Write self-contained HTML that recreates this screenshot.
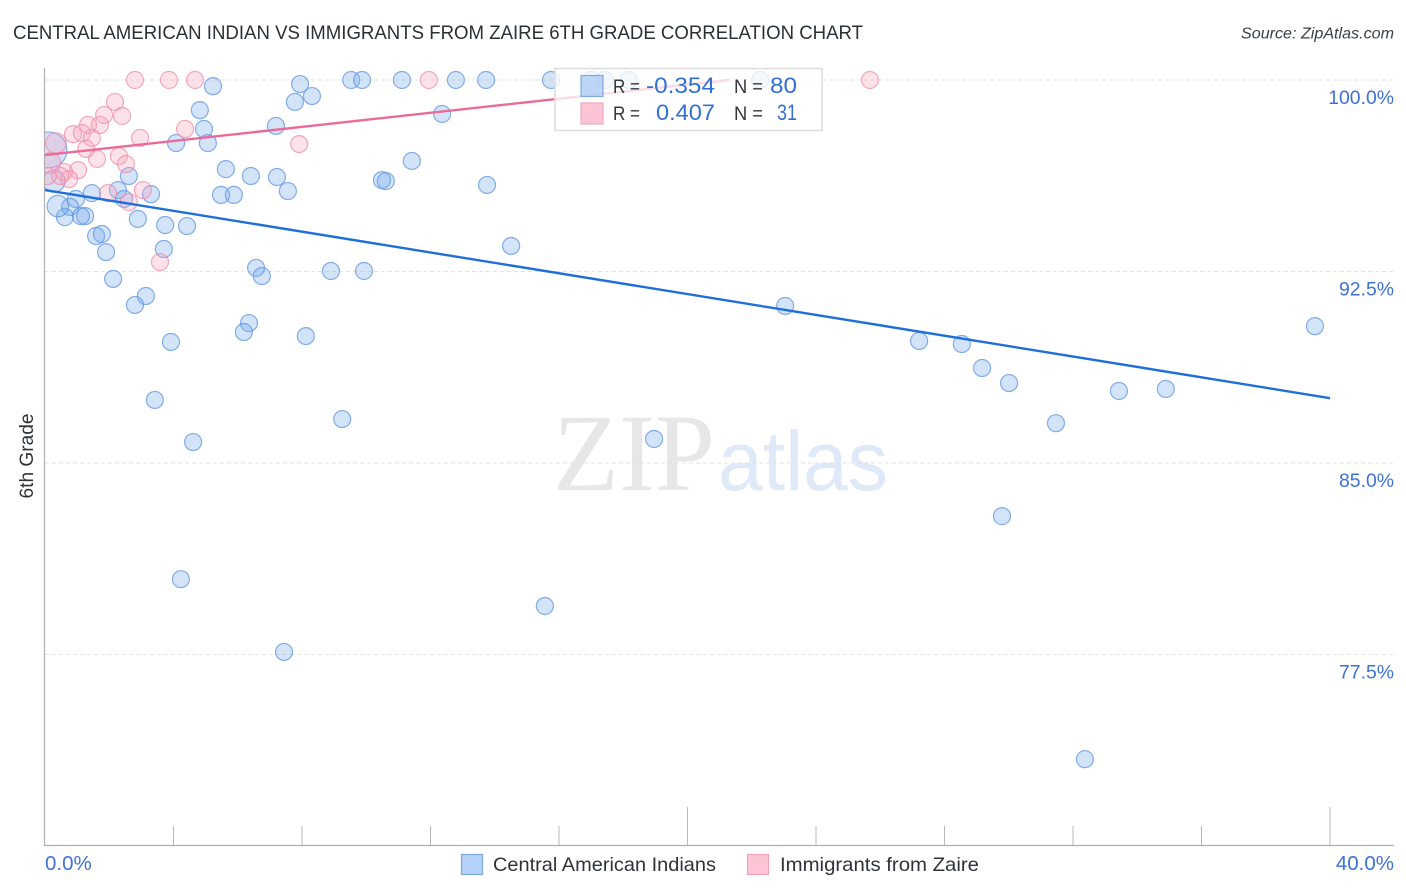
<!DOCTYPE html>
<html>
<head>
<meta charset="utf-8">
<title>Central American Indian vs Immigrants from Zaire 6th Grade Correlation Chart</title>
<style>
html,body{margin:0;padding:0;background:#fff;width:1406px;height:892px;overflow:hidden}
svg{display:block}
text{font-family:"Liberation Sans",sans-serif}
</style>
</head>
<body>
<svg id="chart" width="1406" height="892" viewBox="0 0 1406 892" xmlns="http://www.w3.org/2000/svg">
  <defs><clipPath id="plot-clip"><rect x="45" y="60" width="1349" height="785"/></clipPath></defs>
  <rect width="1406" height="892" fill="#fff"/>
  <text x="13" y="39" font-size="19" fill="#2b2f36" textLength="850" lengthAdjust="spacingAndGlyphs">CENTRAL AMERICAN INDIAN VS IMMIGRANTS FROM ZAIRE 6TH GRADE CORRELATION CHART</text>
  <text x="1241" y="38.500" font-size="15.500" font-style="italic" fill="#3a3f47" textLength="153" lengthAdjust="spacingAndGlyphs">Source: ZipAtlas.com</text>
  <text x="553" y="490" font-size="110" fill="#e7e7e7" textLength="162" lengthAdjust="spacingAndGlyphs" style="font-family:'Liberation Serif',serif">ZIP</text>
  <text x="718" y="490" font-size="84" fill="#dfe9f8" textLength="170" lengthAdjust="spacingAndGlyphs">atlas</text>
  <g id="grid"></g>
  <g id="blue-points" clip-path="url(#plot-clip)"></g>
  <g id="pink-points" clip-path="url(#plot-clip)"></g>
  <g id="trends"></g>
  <g id="axes"></g>
  <text transform="translate(33,456) rotate(-90)" font-size="19" fill="#2f3339" text-anchor="middle" textLength="85" lengthAdjust="spacingAndGlyphs">6th Grade</text>

  <g>
    <rect x="555" y="68.500" width="267" height="62" fill="#fff" fill-opacity="0.76" stroke="#dcdcdc" stroke-width="1.500"/>
    <rect x="581" y="75.500" width="22" height="21" fill="#a9c9f3" fill-opacity="0.75" stroke="#7fa8de" stroke-width="1.200"/>
    <rect x="581" y="103" width="22" height="21" fill="#fcc5d6" stroke="#f3a9c0" stroke-width="1.200"/>
    <text x="613" y="93" font-size="19.500" fill="#33363b" textLength="27" lengthAdjust="spacingAndGlyphs">R =</text>
    <text x="646" y="93" font-size="22" fill="#3170d2" textLength="69" lengthAdjust="spacingAndGlyphs">-0.354</text>
    <text x="734" y="93" font-size="19.500" fill="#33363b" textLength="29" lengthAdjust="spacingAndGlyphs">N =</text>
    <text x="770" y="93" font-size="22" fill="#3170d2" textLength="27" lengthAdjust="spacingAndGlyphs">80</text>
    <text x="613" y="120" font-size="19.500" fill="#33363b" textLength="27" lengthAdjust="spacingAndGlyphs">R =</text>
    <text x="656" y="120" font-size="22" fill="#3170d2" textLength="59" lengthAdjust="spacingAndGlyphs">0.407</text>
    <text x="734" y="120" font-size="19.500" fill="#33363b" textLength="29" lengthAdjust="spacingAndGlyphs">N =</text>
    <text x="777" y="120" font-size="22" fill="#3170d2" textLength="20" lengthAdjust="spacingAndGlyphs">31</text>
  </g>

  <g>
    <rect x="461.500" y="854.500" width="21" height="20" fill="#b5d3f8" stroke="#7ea9dd" stroke-width="1.200"/>
    <text x="493" y="871" font-size="19.500" fill="#2f3339" textLength="223" lengthAdjust="spacingAndGlyphs">Central American Indians</text>
    <rect x="747.500" y="854.500" width="21" height="20" fill="#fcc5d6" stroke="#f0a5bd" stroke-width="1.200"/>
    <text x="780" y="871" font-size="19.500" fill="#2f3339" textLength="199" lengthAdjust="spacingAndGlyphs">Immigrants from Zaire</text>
  </g>
</svg>
<script>
const yTicks = [100, 92.5, 85, 77.5];
const yTickLabels = ["100.0%", "92.5%", "85.0%", "77.5%"];
const xTicks = [0, 4, 8, 12, 16, 20, 24, 28, 32, 36, 40];
const xMajorTicks = [20, 40];
const xTickLabels = ["0.0%", "40.0%"];

const blueX = [5.23,7.94,8.31,7.78,4.82,4.95,4.08,5.07,7.19,12.36,9.53,9.87,11.11,12.79,13.73,15.75,17.00,17.43,18.18,22.26,11.42,5.63,6.41,7.22,7.56,5.48,5.88,10.49,10.61,13.76,2.61,2.27,1.46,0.96,2.46,3.30,0.78,1.25,1.12,0.62,2.89,3.74,4.42,1.59,1.77,1.90,3.70,14.51,6.57,6.75,8.90,9.93,2.12,3.14,2.80,23.04,6.35,6.19,8.12,3.92,27.21,28.54,39.53,29.17,30.01,33.43,34.89,3.42,9.25,31.47,4.61,18.96,29.79,4.23,15.56,7.44,32.37];
const blueY = [99.76,99.84,99.37,99.14,98.82,98.08,97.53,97.53,98.20,98.67,100,100,100,100,100,100,100,100,100,100,96.83,96.51,96.24,96.20,95.65,95.50,95.50,96.08,96.04,95.89,96.24,95.69,95.57,95.34,95.34,95.53,95.03,94.67,94.67,94.63,94.56,94.32,94.28,93.89,93.97,93.26,93.38,93.50,92.64,92.32,92.52,92.52,92.21,91.54,91.19,91.15,90.48,90.13,89.97,89.74,89.78,89.66,90.36,88.72,88.13,87.82,87.90,87.47,86.72,86.56,85.82,85.94,82.92,80.45,79.40,77.60,73.40];
const blueLargeX = [0.12, 0.28, 0.40];
const blueLargeY = [97.26, 96.04, 95.06];
const blueLargeWeight = [4.5, 1.7, 1.6];

const pinkX = [2.80,3.86,4.67,11.95,25.68,2.18,1.84,2.40,1.34,1.71,4.36,2.96,0.87,1.15,1.46,7.91,1.28,2.30,1.62,2.52,1.03,0.59,0.75,0.47,0.09,1.96,3.05,2.61,3.58];
const pinkY = [100,100,100,100,100,99.14,98.63,98.59,98.24,98.24,98.08,97.73,97.88,97.92,97.73,97.49,97.30,97.02,96.91,96.71,96.47,96.40,96.12,96.24,96.24,95.57,95.69,95.22,92.87];
const pinkLargeX = [0.34, 0.16];
const pinkLargeY = [97.53, 96.75];
const pinkLargeWeight = [1.45, 1.5];

const blueTrendX = [0, 40];
const blueTrendY = [95.69, 87.54];
const pinkTrendX = [0, 21.3];
const pinkTrendY = [97.06, 100];

const NS = 'http://www.w3.org/2000/svg';
function xScale(v) { return 45 + v * 32.125; }
function yScale(v) { return 80 + (100 - v) * 25.533; }
function radius(w) { return 8.5 * Math.sqrt(w); }

function make(parent, tag, attrs) {
  const el = document.createElementNS(NS, tag);
  for (const k in attrs) el.setAttribute(k, attrs[k]);
  document.getElementById(parent).appendChild(el);
  return el;
}

yTicks.forEach(function (t, i) {
  const line = make('grid', 'line', { x1: 45, x2: 1394, y1: yScale(t), y2: yScale(t), stroke: '#e2e2e2', 'stroke-width': 1, 'stroke-dasharray': '4 3' });
  
  
  const label = make('axes', 'text', { x: 1394, y: yScale(t) + 24, 'font-size': 19.4, fill: '#3d72d6', 'text-anchor': 'end' });
  label.textContent = yTickLabels[i];
  
  
});

function drawPoint(group, x, y, w, fill, stroke, name) {
  const c = make(group, 'circle', { cx: xScale(x), cy: yScale(y), r: radius(w), fill: fill, 'fill-opacity': 0.3, stroke: stroke, 'stroke-opacity': 0.75, 'stroke-width': 1.2 });
  
  
}

blueX.forEach(function (x, i) { drawPoint('blue-points', x, blueY[i], 1, '#6ea6ea', '#5f94e0', 'blue-point'); });
blueLargeX.forEach(function (x, i) { drawPoint('blue-points', x, blueLargeY[i], blueLargeWeight[i], '#6ea6ea', '#5f94e0', 'blue-point-large'); });
pinkX.forEach(function (x, i) { drawPoint('pink-points', x, pinkY[i], 1, '#f9a0bb', '#ee8dab', 'pink-point'); });
pinkLargeX.forEach(function (x, i) { drawPoint('pink-points', x, pinkLargeY[i], pinkLargeWeight[i], '#f9a0bb', '#ee8dab', 'pink-point-large'); });

const blueLine = make('trends', 'line', { x1: xScale(blueTrendX[0]), y1: yScale(blueTrendY[0]), x2: xScale(blueTrendX[1]), y2: yScale(blueTrendY[1]), stroke: '#1f6fd8', 'stroke-width': 2.4 });


const pinkLine = make('trends', 'line', { x1: xScale(pinkTrendX[0]), y1: yScale(pinkTrendY[0]), x2: xScale(pinkTrendX[1]), y2: yScale(pinkTrendY[1]), stroke: '#ea6a99', 'stroke-width': 2.4 });



const yAxis = make('axes', 'line', { x1: 44.5, x2: 44.5, y1: 68, y2: 846, stroke: '#b0b0b0', 'stroke-width': 1.2 });


const xAxis = make('axes', 'line', { x1: 44, x2: 1394, y1: 845.5, y2: 845.5, stroke: '#b0b0b0', 'stroke-width': 1.2 });



xTicks.forEach(function (t) {
  if (t === 0) return;
  const top = xMajorTicks.indexOf(t) >= 0 ? 807 : 826;
  const tick = make('axes', 'line', { x1: xScale(t), x2: xScale(t), y1: top, y2: 845, stroke: '#b8b8b8', 'stroke-width': 1 });
  
  
});

const xLabelLeft = make('axes', 'text', { x: xScale(xTicks[0]), y: 870, 'font-size': 20.5, fill: '#3d72d6' });
xLabelLeft.textContent = xTickLabels[0];


const xLabelRight = make('axes', 'text', { x: 1394, y: 870, 'font-size': 20.5, fill: '#3d72d6', 'text-anchor': 'end' });
xLabelRight.textContent = xTickLabels[1];


</script>
</body>
</html>
